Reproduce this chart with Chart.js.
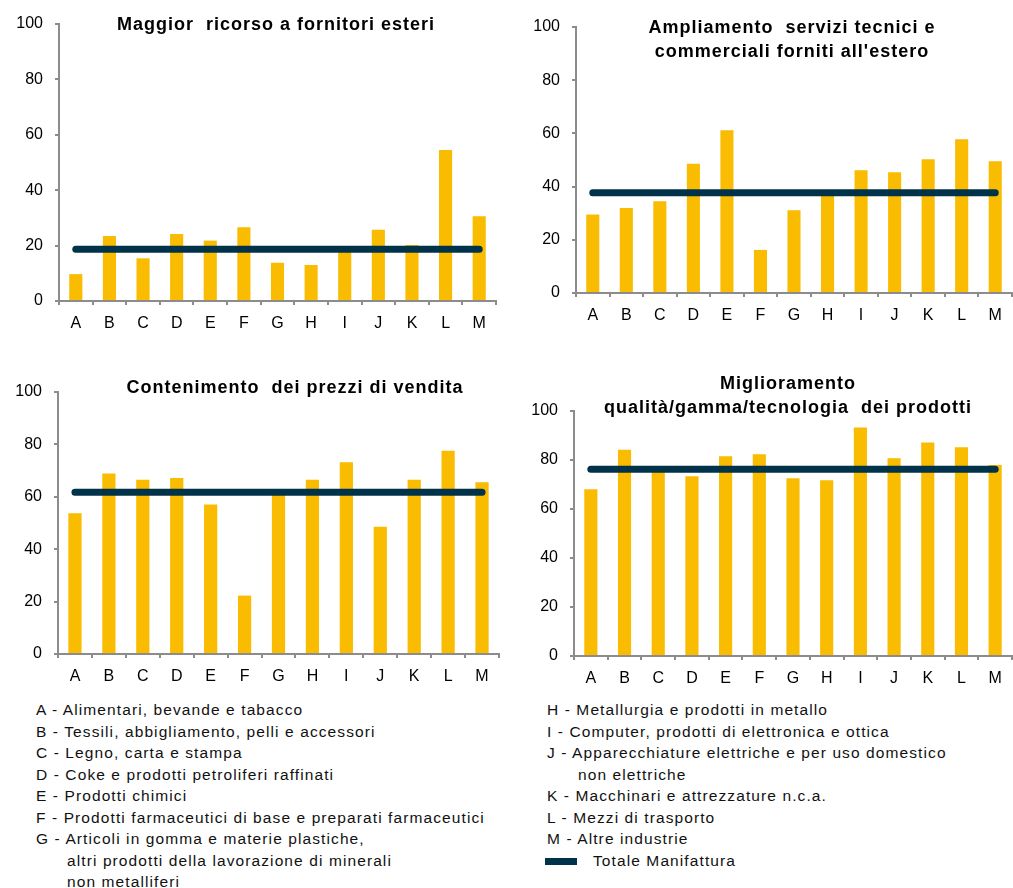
<!DOCTYPE html>
<html lang="it">
<head>
<meta charset="utf-8">
<title>Strategie delle imprese per settore</title>
<script src="https://cdn.jsdelivr.net/npm/chart.js@4.4.1/dist/chart.umd.min.js"></script>
<style>
  body { margin: 0; background: #fff; font-family: 'Liberation Sans', Arial, sans-serif; }
  #page { position: relative; width: 1013px; height: 888px; overflow: hidden; }
  .box { position: absolute; }
  .titolo {
    position: absolute; width: 500px; text-align: center;
    font-weight: bold; font-size: 18px; line-height: 24px; letter-spacing: 1px;
    color: #000; z-index: 2; white-space: nowrap;
  }
  .legenda {
    position: absolute; top: 699px; font-size: 15.5px; line-height: 21.5px;
    letter-spacing: 1.1px; color: #111; white-space: nowrap;
  }
  .legenda .rientro { padding-left: 31px; }
  .legenda .sw { display: inline-block; width: 32px; height: 7px; background: #003349; vertical-align: 1px; margin-right: 16px; }
</style>
</head>
<body>
<div id="page">
  <div class="box" style="left:0;top:0;width:505px;height:335px"><canvas id="c1"></canvas></div>
  <div class="box" style="left:505px;top:0;width:508px;height:335px"><canvas id="c2"></canvas></div>
  <div class="box" style="left:0;top:360px;width:505px;height:335px"><canvas id="c3"></canvas></div>
  <div class="box" style="left:505px;top:360px;width:508px;height:335px"><canvas id="c4"></canvas></div>

  <div class="titolo" style="left:26px;top:12px">Maggior&nbsp; ricorso a fornitori esteri</div>
  <div class="titolo" style="left:542px;top:15px">Ampliamento&nbsp; servizi tecnici e<br>commerciali forniti all'estero</div>
  <div class="titolo" style="left:45px;top:375px">Contenimento&nbsp; dei prezzi di vendita</div>
  <div class="titolo" style="left:538px;top:371px">Miglioramento<br>qualità/gamma/tecnologia&nbsp; dei prodotti</div>

  <div class="legenda" style="left:36px">
    <div>A - Alimentari, bevande e tabacco</div>
    <div>B - Tessili, abbigliamento, pelli e accessori</div>
    <div>C - Legno, carta e stampa</div>
    <div>D - Coke e prodotti petroliferi raffinati</div>
    <div>E - Prodotti chimici</div>
    <div>F - Prodotti farmaceutici di base e preparati farmaceutici</div>
    <div>G - Articoli in gomma e materie plastiche,</div>
    <div class="rientro">altri prodotti della lavorazione di minerali</div>
    <div class="rientro">non metalliferi</div>
  </div>
  <div class="legenda" style="left:547px">
    <div>H - Metallurgia e prodotti in metallo</div>
    <div>I - Computer, prodotti di elettronica e ottica</div>
    <div>J - Apparecchiature elettriche e per uso domestico</div>
    <div class="rientro">non elettriche</div>
    <div>K - Macchinari e attrezzature n.c.a.</div>
    <div>L - Mezzi di trasporto</div>
    <div>M - Altre industrie</div>
    <div style="margin-left:-2px"><span class="sw"></span>Totale Manifattura</div>
  </div>
</div>

<script>
// Settori (asse x) e tacche dell'asse y
const settori = ['A', 'B', 'C', 'D', 'E', 'F', 'G', 'H', 'I', 'J', 'K', 'L', 'M'];
const tickY = [0, 20, 40, 60, 80, 100];

// Valori (percentuali)
const fornitoriEsteri = [9.7, 23.5, 15.4, 24.2, 21.8, 26.6, 13.8, 13.0, 18.0, 25.7, 20.2, 54.5, 30.6];
const serviziEstero   = [29.5, 32.0, 34.5, 48.6, 61.2, 16.2, 31.1, 37.0, 46.1, 45.4, 50.3, 57.8, 49.5];
const prezziVendita   = [53.7, 68.9, 66.5, 67.2, 57.1, 22.3, 61.0, 66.5, 73.2, 48.6, 66.5, 77.6, 65.6];
const qualitaProdotti = [68.1, 84.2, 76.0, 73.4, 81.5, 82.3, 72.6, 71.7, 93.3, 80.7, 87.1, 85.2, 78.0];

// Totale manifattura per ciascun pannello (linea orizzontale)
const totaleManifattura = [18.7, 37.7, 61.7, 76.2];

const GIALLO = '#F9BC00';
const BLU = '#003349';
const GRIGIO = '#8c8c8c';

Chart.defaults.font.family = "'Liberation Sans', Arial, sans-serif";
Chart.defaults.font.size = 16;
Chart.defaults.color = '#000';

function creaGrafico(id, valori, totale, area) {
    const ctx = document.getElementById(id).getContext('2d');
    return new Chart(ctx, {
        data: {
            labels: settori,
            datasets: [
                {
                    type: 'line',
                    label: 'Totale Manifattura',
                    data: settori.map(() => totale),
                    borderColor: BLU,
                    borderWidth: 7,
                    borderCapStyle: 'round',
                    pointRadius: 0,
                    order: 0
                },
                {
                    type: 'bar',
                    label: 'Settore',
                    data: valori,
                    backgroundColor: GIALLO,
                    barPercentage: 0.39,
                    categoryPercentage: 1.0,
                    order: 1
                }
            ]
        },
        options: {
            responsive: true,
            maintainAspectRatio: false,
            animation: false,
            layout: { padding: { top: area.top, left: 0, right: area.right, bottom: 0 } },
            plugins: { legend: { display: false }, tooltip: { enabled: false }, title: { display: false } },
            scales: {
                x: {
                    grid: { offset: true, drawOnChartArea: false, drawTicks: true, tickLength: 4, color: GRIGIO, lineWidth: 2 },
                    border: { color: GRIGIO, width: 2 },
                    ticks: { padding: 9, maxRotation: 0, autoSkip: false },
                    afterFit: scale => { scale.height = area.xH; }
                },
                y: {
                    min: 0,
                    max: 100,
                    afterBuildTicks: scale => { scale.ticks = tickY.map(v => ({ value: v })); },
                    grid: { drawOnChartArea: false, drawTicks: true, tickLength: 4, color: GRIGIO, lineWidth: 2 },
                    border: { color: GRIGIO, width: 2 },
                    ticks: { padding: 12 },
                    afterFit: scale => { scale.width = area.yW; }
                }
            }
        }
    });
}

creaGrafico('c1', fornitoriEsteri, totaleManifattura[0], { top: 24, right: 9, yW: 59, xH: 34 });
creaGrafico('c2', serviziEstero, totaleManifattura[1], { top: 27, right: 1, yW: 71, xH: 42 });
creaGrafico('c3', prezziVendita, totaleManifattura[2], { top: 32, right: 6, yW: 58, xH: 41 });
creaGrafico('c4', qualitaProdotti, totaleManifattura[3], { top: 51, right: 1, yW: 69, xH: 39 });
</script>
</body>
</html>
